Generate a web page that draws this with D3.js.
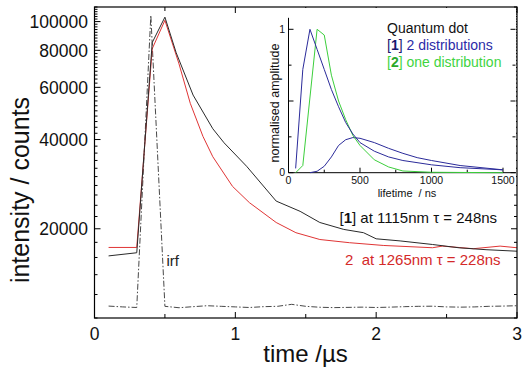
<!DOCTYPE html>
<html><head><meta charset="utf-8">
<script src="https://cdn.jsdelivr.net/npm/d3@7"></script>
<style>body{margin:0;background:#fff}svg{display:block;font-family:"Liberation Sans",Arial,sans-serif}</style>
</head><body>
<svg id="c" width="528" height="369"></svg>
<script>
// ---- main chart data (time in µs, counts) ----
const tBlack = [0.1,0.3,0.41,0.5,0.58,0.70,0.84,0.92,1.08,1.29,1.46,1.60,1.77,1.91,2.00,2.17,2.40,2.59,2.78,3.00];
const vBlack = [16200,16600,85000,103500,78500,56500,43500,39000,32500,24800,22900,21000,19900,19400,18500,18200,17700,17250,17000,16800];
const tRed = [0.1,0.3,0.41,0.5,0.6,0.68,0.77,0.84,0.98,1.10,1.29,1.43,1.60,1.81,2.05,2.40,2.47,2.69,2.88,3.00];
const vRed = [17300,17300,81000,101000,72000,53000,41000,35000,27800,24500,21000,19400,18400,17950,17570,17260,17480,17130,17480,17260];
const tIrf = [0.1,0.2,0.3,0.4,0.5,0.6,0.7,0.8,0.9,1.0,1.1,1.2,1.3,1.4,1.5,1.6,1.7,1.8,1.9,2.0,2.1,2.2,2.3,2.4,2.5,2.6,2.7,2.8,2.9,3.0];
const vIrf = [10970,10900,10850,105000,10950,10830,10920,11000,10950,10900,10850,10920,10950,11120,10950,10870,10840,10860,10880,10850,10880,10920,10950,10960,10900,10880,10900,10950,10970,11000];
const xTicks = [0,1,2,3];
const yTickLabels = [20000,40000,60000,80000,100000];

// ---- inset data (lifetime ns, normalised amplitude) ----
const xBlueA = [50,100,150,200,250,300,350,400,450,500,600,700,800,1000,1200,1500];
const aBlueA = [0.03,0.72,1.0,0.86,0.72,0.58,0.46,0.35,0.27,0.21,0.15,0.11,0.085,0.055,0.035,0.02];
const xBlueB = [150,200,250,300,350,400,450,500,600,700,800,900,1000,1200,1500];
const aBlueB = [0,0.01,0.045,0.11,0.19,0.23,0.245,0.24,0.21,0.17,0.135,0.105,0.085,0.05,0.02];
const xGreen = [50,100,200,250,300,350,400,450,500,600,700,800,1000,1500];
const aGreen = [0,0.05,1.0,0.96,0.68,0.50,0.37,0.26,0.19,0.09,0.04,0.012,0.003,0];
const insetXTicks = [0,500,1000,1500];
const insetYTicks = [0,1];

const svg = d3.select("#c");
const L=94.5, R=517, T=7, B=318;
const x = d3.scaleLinear().domain([0,3]).range([L,R]);
const y = d3.scaleLog().domain([10000,112000]).range([B,T]);

const line = (xs,ys,sx,sy)=> d3.line().x((d,i)=>sx(xs[i])).y((d,i)=>sy(ys[i]))(xs);

// curves
svg.append("path").attr("d",line(tIrf,vIrf,x,y)).attr("fill","none").attr("stroke","#333").attr("stroke-width",0.9).attr("stroke-dasharray","6,2,1.5,2");
svg.append("path").attr("d",line(tRed,vRed,x,y)).attr("fill","none").attr("stroke","#e03535").attr("stroke-width",1);
svg.append("path").attr("d",line(tBlack,vBlack,x,y)).attr("fill","none").attr("stroke","#2a2a2a").attr("stroke-width",1);

// frame
svg.append("rect").attr("x",L).attr("y",T).attr("width",R-L).attr("height",B-T).attr("fill","none").attr("stroke","#000").attr("stroke-width",1.2);

// y ticks (left and right mirror)
const minorY = d3.range(10000,112001,2000);
const g = svg.append("g").attr("stroke","#000").attr("stroke-width",1);
minorY.forEach(v=>{
  const major = yTickLabels.includes(v);
  const len = major?6:3;
  g.append("line").attr("x1",L).attr("x2",L+len).attr("y1",y(v)).attr("y2",y(v));
  g.append("line").attr("x1",R).attr("x2",R-len).attr("y1",y(v)).attr("y2",y(v));
});
// x ticks
d3.range(0,3.01,0.5).forEach(v=>{
  const major = Math.abs(v-Math.round(v))<1e-6;
  const len = major?6:4;
  g.append("line").attr("x1",x(v)).attr("x2",x(v)).attr("y1",B).attr("y2",B-len);
  g.append("line").attr("x1",x(v)).attr("x2",x(v)).attr("y1",T).attr("y2",T+len);
});
svg.selectAll(".yl").data(yTickLabels).enter().append("text")
  .attr("x",88).attr("y",d=>y(d)).attr("dy","0.36em").attr("text-anchor","end")
  .attr("font-size",17.5).attr("fill","#111").text(d=>d);
svg.selectAll(".xl").data(xTicks).enter().append("text")
  .attr("x",d=>x(d)).attr("y",339.5).attr("text-anchor","middle")
  .attr("font-size",17.5).attr("fill","#111").text(d=>d);
svg.append("text").attr("transform","translate(29,190) rotate(-90)").attr("text-anchor","middle")
  .attr("font-size",25).attr("fill","#111").text("intensity / counts");
svg.append("text").attr("x",305.5).attr("y",361.5).attr("text-anchor","middle")
  .attr("font-size",24).attr("fill","#111").text("time /µs");

svg.append("text").attr("x",166.5).attr("y",266).attr("font-size",15).attr("fill","#222").text("irf");
const a1 = svg.append("text").attr("x",339.5).attr("y",222.7).attr("font-size",15).attr("fill","#111");
a1.append("tspan").text("[");
a1.append("tspan").attr("font-weight","bold").text("1");
a1.append("tspan").text("] at 1115nm τ = 248ns");
svg.append("text").attr("x",345).attr("y",265).attr("font-size",15).attr("fill","#d42a2a").attr("xml:space","preserve").text("2  at 1265nm τ = 228ns");

// ---- inset ----
svg.append("rect").attr("x",272).attr("y",8).attr("width",244).attr("height",180).attr("fill","#fff");
const ix = d3.scaleLinear().domain([0,1600]).range([288.5,517.3]);
const iy = d3.scaleLinear().domain([0,1]).range([172.7,29.3]);
const gi = svg.append("g").attr("stroke","#000").attr("stroke-width",1);
gi.append("line").attr("x1",ix(0)).attr("x2",516).attr("y1",iy(0)).attr("y2",iy(0));
gi.append("line").attr("x1",ix(0)).attr("x2",ix(0)).attr("y1",iy(0)).attr("y2",iy(1.08));
d3.range(0,1601,250).forEach(v=>{
  const major = v%500===0;
  gi.append("line").attr("x1",ix(v)).attr("x2",ix(v)).attr("y1",iy(0)).attr("y2",iy(0)-(major?5:3));
});
d3.range(0,1.01,0.25).forEach(v=>{
  const major = Math.abs(v*2-Math.round(v*2))<1e-6;
  gi.append("line").attr("x1",ix(0)).attr("x2",ix(0)+(major?5:3)).attr("y1",iy(v)).attr("y2",iy(v));
  gi.append("line").attr("x1",515.5).attr("x2",515.5-(major?5:3)).attr("y1",iy(v)).attr("y2",iy(v));
});
svg.append("path").attr("d",line(xBlueB,aBlueB,ix,iy)).attr("fill","none").attr("stroke","#2b2b9a").attr("stroke-width",1);
svg.append("path").attr("d",line(xGreen,aGreen,ix,iy)).attr("fill","none").attr("stroke","#3ccf3c").attr("stroke-width",1);
svg.append("path").attr("d",line(xBlueA,aBlueA,ix,iy)).attr("fill","none").attr("stroke","#2b2b9a").attr("stroke-width",1);
svg.selectAll(".ixl").data(insetXTicks).enter().append("text")
  .attr("x",d=>ix(d)).attr("y",183.5).attr("text-anchor","middle").attr("font-size",10.5).attr("fill","#111").text(d=>d);
svg.selectAll(".iyl").data(insetYTicks).enter().append("text")
  .attr("x",285).attr("y",d=>iy(d)).attr("dy","0.36em").attr("text-anchor","end").attr("font-size",10.5).attr("fill","#111").text(d=>d);
svg.append("text").attr("x",407).attr("y",197).attr("text-anchor","middle").attr("font-size",11).attr("fill","#111").attr("xml:space","preserve").text("lifetime  / ns");
svg.append("text").attr("transform","translate(279,103) rotate(-90)").attr("text-anchor","middle").attr("font-size",12.5).attr("fill","#111").text("normalised amplitude");
svg.append("text").attr("x",387).attr("y",32.5).attr("font-size",14).attr("fill","#111").text("Quantum dot");
const l1 = svg.append("text").attr("x",387).attr("y",49.5).attr("font-size",14).attr("fill","#2b2ba8");
l1.append("tspan").attr("fill","#1a1a70").text("[");
l1.append("tspan").attr("font-weight","bold").attr("fill","#1a1a70").text("1");
l1.append("tspan").attr("fill","#1a1a70").text("]");
l1.append("tspan").text(" 2 distributions");
const l2 = svg.append("text").attr("x",387).attr("y",66.5).attr("font-size",14).attr("fill","#3fd43f");
l2.append("tspan").text("[");
l2.append("tspan").attr("font-weight","bold").attr("fill","#2aa82a").text("2");
l2.append("tspan").text("] one distribution");
</script>
</body></html>
